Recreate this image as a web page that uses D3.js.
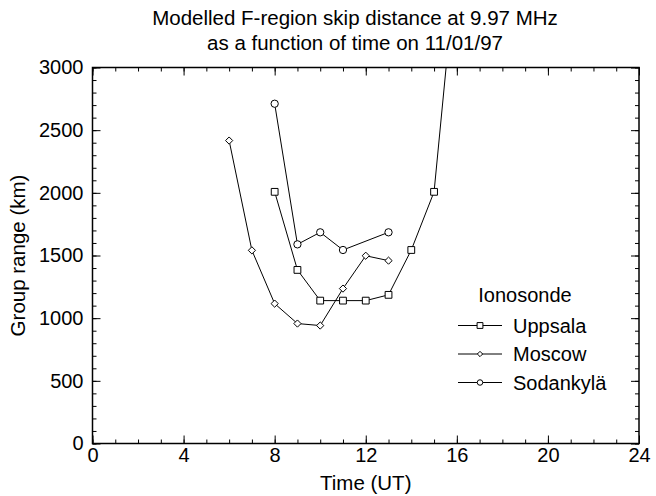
<!DOCTYPE html>
<html><head><meta charset="utf-8">
<script src="https://cdn.jsdelivr.net/npm/d3@7"></script>
<style>body{margin:0;background:#fff}svg text{font-family:"Liberation Sans",Arial,sans-serif;fill:#000}</style>
</head><body><svg id="c" width="656" height="496"></svg>
<script>
const titleLines = ["Modelled F-region skip distance at 9.97 MHz", "as a function of time on 11/01/97"];
const xTicks = [0, 4, 8, 12, 16, 20, 24];
const yTicks = [0, 500, 1000, 1500, 2000, 2500, 3000];
const seriesNames = ["Uppsala", "Moscow", "Sodankylä"];
const uppsalaTime = [8, 9, 10, 11, 12, 13, 14, 15, 16];
const uppsalaRange = [2008, 1385, 1140, 1140, 1140, 1186, 1544, 2008, 3885];
const moscowTime = [6, 7, 8, 9, 10, 11, 12, 13];
const moscowRange = [2417, 1541, 1116, 957, 941, 1236, 1498, 1459];
const sodankylaTime = [8, 9, 10, 11, 13];
const sodankylaRange = [2711, 1589, 1685, 1544, 1685];

const svg = d3.select("#c");
const L = 92.5, R = 639, T = 67.5, B = 443.5;
const x = d3.scaleLinear().domain([0, 24]).range([L, R]);
const y = d3.scaleLinear().domain([0, 3000]).range([B, T]);
const FF = "Liberation Sans, Arial, sans-serif";

svg.append("defs").append("clipPath").attr("id","clip")
  .append("rect").attr("x",L).attr("y",T).attr("width",R-L).attr("height",B-T);

svg.append("text").attr("x",355).attr("y",25).attr("text-anchor","middle").attr("font-size",20.5).text(titleLines[0]);
svg.append("text").attr("x",355).attr("y",50).attr("text-anchor","middle").attr("font-size",20.5).text(titleLines[1]);

const minorX = d3.range(0, 25, 1), minorY = d3.range(0, 3001, 100);
function axisGroup(axis, tx, ty){ const g = svg.append("g").attr("transform",`translate(${tx},${ty})`).call(axis); g.select(".domain").remove(); g.selectAll("line").attr("stroke","#000").attr("stroke-width",1); g.selectAll("text").attr("font-family",FF).attr("fill","#000"); return g; }
axisGroup(d3.axisBottom(x).tickValues(minorX).tickSize(-4).tickFormat(""), 0, B);
axisGroup(d3.axisTop(x).tickValues(minorX).tickSize(-4).tickFormat(""), 0, T);
axisGroup(d3.axisLeft(y).tickValues(minorY).tickSize(-4).tickFormat(""), L, 0);
axisGroup(d3.axisRight(y).tickValues(minorY).tickSize(-4).tickFormat(""), R, 0);
const gb = axisGroup(d3.axisBottom(x).tickValues(xTicks).tickSize(-8).tickFormat(d3.format("d")), 0, B);
gb.selectAll("text").attr("font-size",20).attr("dy","0.75em").attr("y",3);
axisGroup(d3.axisTop(x).tickValues(xTicks).tickSize(-8).tickFormat(""), 0, T);
const gl = axisGroup(d3.axisLeft(y).tickValues(yTicks).tickSize(-8).tickFormat(d3.format("d")), L, 0);
gl.selectAll("text").attr("font-size",20).attr("x",-9);
axisGroup(d3.axisRight(y).tickValues(yTicks).tickSize(-8).tickFormat(""), R, 0);

svg.append("rect").attr("x",L).attr("y",T).attr("width",R-L).attr("height",B-T)
  .attr("fill","none").attr("stroke","#000").attr("stroke-width",1.5);

svg.append("text").attr("x",(L+R)/2).attr("y",490).attr("text-anchor","middle").attr("font-size",20.5).text("Time (UT)");
svg.append("text").attr("transform",`translate(25,${(T+B)/2}) rotate(-90)`).attr("text-anchor","middle").attr("font-size",20.5).text("Group range (km)");

const diamond = { draw(ctx, size){ const r = Math.sqrt(size/2); ctx.moveTo(0,-r); ctx.lineTo(r,0); ctx.lineTo(0,r); ctx.lineTo(-r,0); ctx.closePath(); } };
const symbols = [d3.symbolSquare, diamond, d3.symbolCircle];
const symSizes = [46, 26, 42];
const data = [
  uppsalaTime.map((t,i)=>({t, r:uppsalaRange[i]})),
  moscowTime.map((t,i)=>({t, r:moscowRange[i]})),
  sodankylaTime.map((t,i)=>({t, r:sodankylaRange[i]}))
];
const line = d3.line().x(d=>x(d.t)).y(d=>y(d.r));
const plot = svg.append("g").attr("clip-path","url(#clip)");
data.forEach((s,k)=>{
  plot.append("path").attr("d",line(s)).attr("fill","none").attr("stroke","#000").attr("stroke-width",1);
  plot.selectAll(null).data(s.filter(d=>d.r<=3000)).enter().append("path")
    .attr("transform",d=>`translate(${x(d.t)},${y(d.r)})`)
    .attr("d",d3.symbol(symbols[k], symSizes[k])())
    .attr("fill","#fff").attr("stroke","#000").attr("stroke-width",1);
});

svg.append("text").attr("x",525).attr("y",302).attr("text-anchor","middle").attr("font-size",20).text("Ionosonde");
const legSizes = [34, 14, 24];
seriesNames.forEach((n,k)=>{
  const yy = 325.5 + k*28.5;
  svg.append("line").attr("x1",458).attr("x2",502).attr("y1",yy).attr("y2",yy).attr("stroke","#000").attr("stroke-width",1);
  svg.append("path").attr("transform",`translate(480,${yy})`).attr("d",d3.symbol(symbols[k], legSizes[k])())
    .attr("fill","#fff").attr("stroke","#000").attr("stroke-width",1);
  svg.append("text").attr("x",513).attr("y",yy+7).attr("font-size",20).text(n);
});
</script></body></html>
